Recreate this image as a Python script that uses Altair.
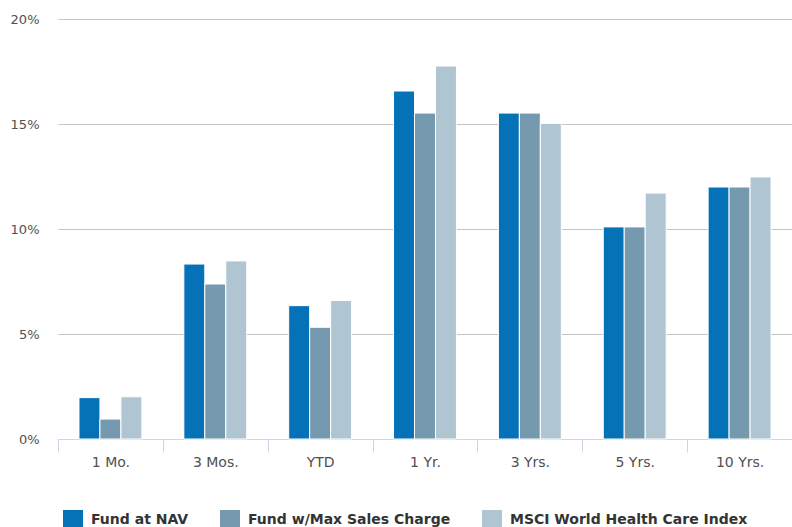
import altair as alt
import pandas as pd

periods = ["1 Mo.", "3 Mos.", "YTD", "1 Yr.", "3 Yrs.", "5 Yrs.", "10 Yrs."]
series = ["Fund at NAV", "Fund w/Max Sales Charge", "MSCI World Health Care Index"]
nav = [1.97, 8.33, 6.35, 16.57, 15.52, 10.10, 12.00]
max_sales = [0.95, 7.38, 5.32, 15.52, 15.52, 10.10, 12.00]
msci = [2.01, 8.48, 6.60, 17.76, 15.03, 11.71, 12.48]
colors = ["#0572b8", "#7599ae", "#afc6d2"]
y_ticks = [0, 5, 10, 15, 20]

rows = []
for s, vals in zip(series, [nav, max_sales, msci]):
    for p, v in zip(periods, vals):
        rows.append({"period": p, "series": s, "value": v})
df = pd.DataFrame(rows)

FONT = "DejaVu Sans"

chart = alt.Chart(df).mark_bar(stroke="white", strokeWidth=1).encode(
    x=alt.X(
        "period:N",
        sort=periods,
        title=None,
        scale=alt.Scale(paddingInner=0, paddingOuter=0),
        axis=alt.Axis(
            tickBand="extent",
            tickColor="#ccd6eb",
            tickSize=13,
            tickWidth=1,
            domainColor="#ccd6eb",
            domainWidth=1,
            labelAngle=0,
            labelFont=FONT,
            labelFontSize=14,
            labelColor="#505050",
            labelPadding=3,
            grid=False,
        ),
    ),
    xOffset=alt.XOffset(
        "series:N", sort=series, scale=alt.Scale(paddingInner=0, paddingOuter=1)
    ),
    y=alt.Y(
        "value:Q",
        title=None,
        scale=alt.Scale(domain=[0, 20], nice=False),
        axis=alt.Axis(
            values=y_ticks,
            grid=True,
            gridColor="#c4c4c4",
            gridWidth=1,
            domain=False,
            ticks=False,
            labelPadding=19,
            labelFont=FONT,
            labelFontSize=13,
            labelColor="#505050",
            labelExpr="datum.value + '%'",
        ),
    ),
    color=alt.Color(
        "series:N",
        sort=series,
        scale=alt.Scale(domain=series, range=colors),
        legend=alt.Legend(
            orient="none",
            legendX=5,
            legendY=491,
            direction="horizontal",
            title=None,
            symbolType="square",
            symbolSize=400,
            symbolStrokeWidth=0,
            symbolOpacity=1,
            labelFont=FONT,
            labelFontSize=14,
            labelFontWeight="bold",
            labelColor="#333333",
            labelOffset=8,
            labelLimit=500,
            columnPadding=31,
        ),
    ),
).properties(
    width=734,
    height=420,
    autosize=alt.AutoSizeParams(type="none"),
    padding={"left": 58, "top": 19, "right": 0, "bottom": 88},
).configure_view(strokeWidth=0)

chart.save("out.html", embed_options={"renderer": "svg", "actions": False})
